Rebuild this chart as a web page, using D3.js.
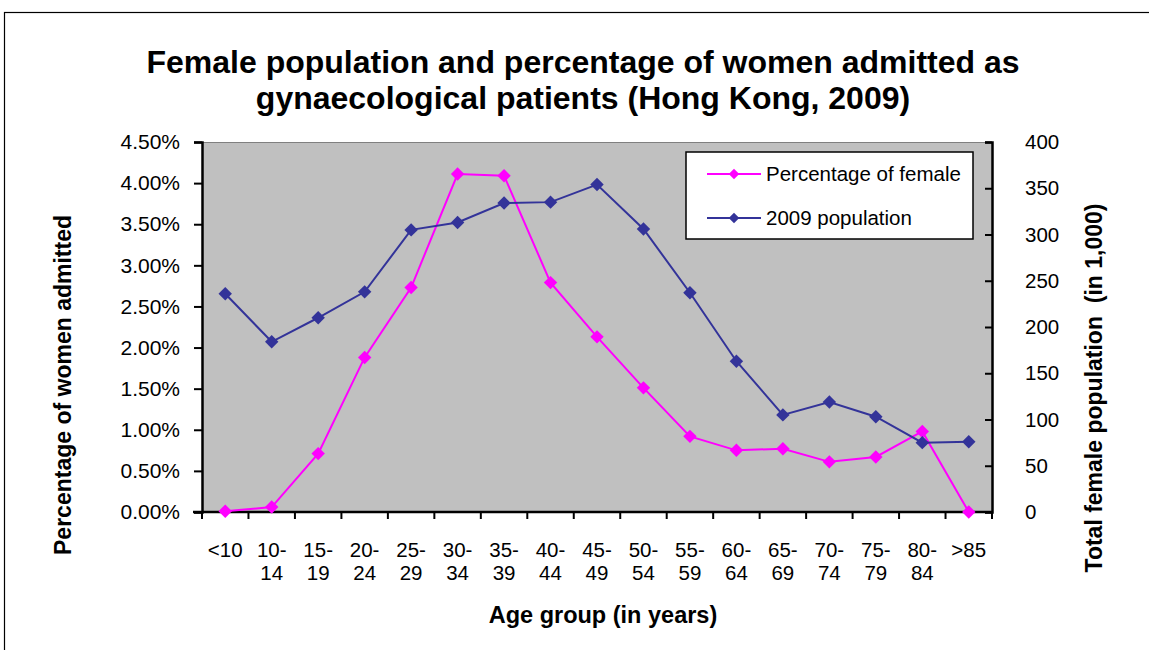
<!DOCTYPE html>
<html>
<head>
<meta charset="utf-8">
<script src="https://cdn.jsdelivr.net/npm/d3@7"></script>
<style>
  html, body { margin: 0; padding: 0; background: #fff; }
  svg { display: block; font-family: "Liberation Sans", Arial, sans-serif; }
</style>
</head>
<body>
<div id="chart"></div>
<script>
// chart data
const ageGroups = ['<10', '10-14', '15-19', '20-24', '25-29', '30-34', '35-39', '40-44', '45-49',
  '50-54', '55-59', '60-64', '65-69', '70-74', '75-79', '80-84', '>85'];
const pctAdmitted = [0.01, 0.06, 0.71, 1.88, 2.73, 4.11, 4.09, 2.79, 2.13, 1.51, 0.92, 0.75, 0.77, 0.61, 0.67, 0.98, 0.0];
const population = [236, 184, 210, 238, 305, 313, 334, 335, 354, 306, 237, 163, 105, 119, 103, 75, 76];
const leftTicks = [0, 0.5, 1, 1.5, 2, 2.5, 3, 3.5, 4, 4.5];
const rightTicks = [0, 50, 100, 150, 200, 250, 300, 350, 400];

const W = 1149, H = 650;
const plot = { left: 202, right: 992, top: 142, bottom: 512 };
const FONT = '"Liberation Sans", Arial, sans-serif';

const svg = d3.select('#chart').append('svg')
  .attr('width', W).attr('height', H);

// outer frame (runs past the page edge)
svg.append('rect')
  .attr('x', 4.5).attr('y', 12.5)
  .attr('width', 1200).attr('height', 700)
  .attr('fill', 'none').attr('stroke', '#000').attr('stroke-width', 1.2);

// title
const title = svg.append('text')
  .attr('text-anchor', 'middle')
  .attr('font-size', 32).attr('font-weight', 'bold');
title.append('tspan').attr('x', 583).attr('y', 73)
  .text('Female population and percentage of women admitted as');
title.append('tspan').attr('x', 583).attr('y', 109)
  .text('gynaecological patients (Hong Kong, 2009)');

// scales
const x = d3.scaleBand().domain(ageGroups).range([plot.left, plot.right]);
const yL = d3.scaleLinear().domain([0, 4.5]).range([plot.bottom, plot.top]);
const yR = d3.scaleLinear().domain([0, 400]).range([plot.bottom, plot.top]);

// plot background
svg.append('rect')
  .attr('x', plot.left).attr('y', plot.top)
  .attr('width', plot.right - plot.left).attr('height', plot.bottom - plot.top)
  .attr('fill', '#c0c0c0');
svg.append('line')
  .attr('x1', plot.left).attr('x2', plot.right)
  .attr('y1', plot.top + 0.5).attr('y2', plot.top + 0.5)
  .attr('stroke', '#808080').attr('stroke-width', 1);

// left axis
const axL = svg.append('g')
  .attr('transform', `translate(${plot.left},0)`)
  .call(d3.axisLeft(yL).tickValues(leftTicks).tickSize(8).tickPadding(14)
    .tickFormat(d => d.toFixed(2) + '%'));
axL.select('.domain').attr('stroke-width', 2.5);
axL.selectAll('.tick line').attr('stroke-width', 2);
axL.selectAll('text').attr('font-size', 21).attr('font-family', FONT).attr('fill', '#000');

// right axis (ticks inside the plot)
const axR = svg.append('g')
  .attr('transform', `translate(${plot.right},0)`)
  .call(d3.axisRight(yR).tickValues(rightTicks).tickSize(-7).tickPadding(33)
    .tickFormat(d3.format('d')));
axR.select('.domain').attr('stroke-width', 2.5);
axR.selectAll('.tick line').attr('stroke-width', 2);
axR.selectAll('text').attr('font-size', 20.5).attr('font-family', FONT).attr('fill', '#000');

// bottom axis, ticks at category boundaries
const axB = svg.append('g')
  .attr('transform', `translate(0,${plot.bottom})`);
axB.append('line')
  .attr('x1', plot.left - 9).attr('x2', plot.right)
  .attr('stroke', '#000').attr('stroke-width', 2.5);
axB.selectAll('line.tk')
  .data(ageGroups.concat(['end']))
  .enter().append('line').attr('class', 'tk')
  .attr('x1', (d, i) => plot.left + i * x.bandwidth())
  .attr('x2', (d, i) => plot.left + i * x.bandwidth())
  .attr('y1', 0).attr('y2', 7)
  .attr('stroke', '#000').attr('stroke-width', 2);
const xl = axB.selectAll('text.lbl')
  .data(ageGroups)
  .enter().append('text').attr('class', 'lbl')
  .attr('text-anchor', 'middle')
  .attr('font-size', 20.5);
xl.each(function (d) {
  const t = d3.select(this);
  const cx = x(d) + x.bandwidth() / 2;
  const parts = d.includes('-') ? [d.split('-')[0] + '-', d.split('-')[1]] : [d];
  parts.forEach((p, i) => {
    t.append('tspan').attr('x', cx).attr('y', 45 + i * 23).text(p);
  });
});

// axis titles
svg.append('text')
  .attr('transform', 'translate(71,385) rotate(-90)')
  .attr('text-anchor', 'middle')
  .attr('font-size', 23).attr('font-weight', 'bold')
  .text('Percentage of women admitted');
svg.append('text')
  .attr('transform', 'translate(1102,388) rotate(-90)')
  .attr('text-anchor', 'middle')
  .attr('font-size', 23).attr('font-weight', 'bold')
  .style('white-space', 'pre')
  .text('Total female population  (in 1,000)');
svg.append('text')
  .attr('x', 603).attr('y', 623)
  .attr('text-anchor', 'middle')
  .attr('font-size', 23.5).attr('font-weight', 'bold')
  .text('Age group (in years)');

// series
const diamond = d3.symbol().type(d3.symbolDiamond2).size(115);
const series = [
  { name: 'Percentage of female', values: pctAdmitted, y: yL, color: '#ff00ff' },
  { name: '2009 population', values: population, y: yR, color: '#333399' }
];

series.forEach(s => {
  const pts = ageGroups.map((g, i) => [x(g) + x.bandwidth() / 2, s.y(s.values[i])]);
  svg.append('path')
    .attr('d', d3.line()(pts))
    .attr('fill', 'none').attr('stroke', s.color).attr('stroke-width', 2);
  svg.append('g').selectAll('path')
    .data(pts)
    .enter().append('path')
    .attr('transform', d => `translate(${d[0]},${d[1]})`)
    .attr('d', diamond)
    .attr('fill', s.color);
});

// legend
const lg = svg.append('g').attr('transform', 'translate(686,152)');
lg.append('rect')
  .attr('width', 287).attr('height', 87)
  .attr('fill', '#fff').attr('stroke', '#000').attr('stroke-width', 1.5);
series.forEach((s, i) => {
  const yy = 22 + i * 44;
  lg.append('line')
    .attr('x1', 21).attr('x2', 75).attr('y1', yy).attr('y2', yy)
    .attr('stroke', s.color).attr('stroke-width', 2);
  lg.append('path')
    .attr('transform', `translate(48,${yy})`)
    .attr('d', d3.symbol().type(d3.symbolDiamond2).size(70))
    .attr('fill', s.color);
  lg.append('text')
    .attr('x', 80).attr('y', yy + 7)
    .attr('font-size', 20.5)
    .text(s.name);
});
</script>
</body>
</html>
